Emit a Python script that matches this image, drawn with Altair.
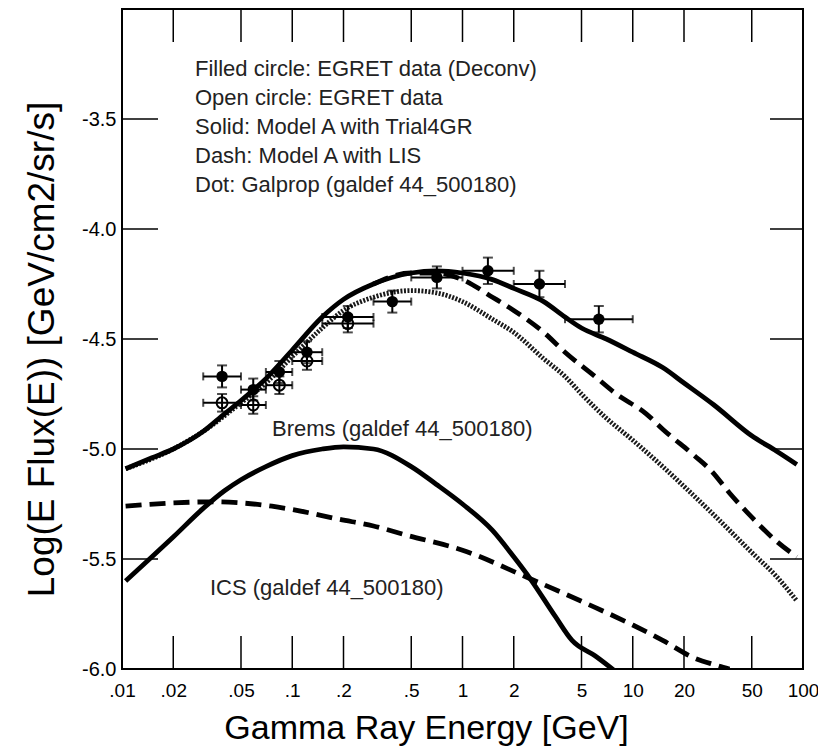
import altair as alt
import pandas as pd

# ---------------- data ----------------
total_E = [0.0105, 0.015, 0.02, 0.03, 0.04, 0.05, 0.07, 0.1, 0.15, 0.2, 0.3, 0.5, 0.7, 1, 1.5, 2, 3, 4, 5, 7, 10, 15, 20, 30, 50, 70, 92]
total_F = [-5.09, -5.04, -5.00, -4.92, -4.84, -4.78, -4.68, -4.55, -4.40, -4.32, -4.25, -4.20, -4.19, -4.20, -4.23, -4.27, -4.33, -4.40, -4.45, -4.50, -4.56, -4.63, -4.70, -4.80, -4.94, -5.01, -5.07]

lis_E = [0.3, 0.5, 0.7, 1, 1.5, 2, 3, 4, 6, 8, 12, 15, 23, 29, 37, 50, 70, 92]
lis_F = [-4.25, -4.20, -4.20, -4.23, -4.31, -4.37, -4.47, -4.56, -4.67, -4.75, -4.84, -4.91, -5.03, -5.10, -5.20, -5.31, -5.42, -5.49]

galprop_E = [0.0105, 0.02, 0.03, 0.05, 0.07, 0.1, 0.15, 0.2, 0.3, 0.5, 0.7, 1, 1.5, 2, 3, 4, 5, 7, 10, 15, 20, 30, 50, 70, 92]
galprop_F = [-5.09, -5.00, -4.92, -4.79, -4.70, -4.58, -4.45, -4.37, -4.31, -4.28, -4.29, -4.33, -4.41, -4.47, -4.59, -4.67, -4.75, -4.86, -4.96, -5.08, -5.17, -5.30, -5.47, -5.58, -5.69]

brems_E = [0.0105, 0.015, 0.02, 0.03, 0.04, 0.05, 0.07, 0.1, 0.15, 0.2, 0.3, 0.5, 0.7, 1, 1.5, 2, 2.5, 3.5, 4.4, 6, 8.5]
brems_F = [-5.60, -5.49, -5.40, -5.27, -5.19, -5.14, -5.08, -5.03, -5.00, -4.99, -5.00, -5.08, -5.16, -5.25, -5.37, -5.49, -5.59, -5.76, -5.87, -5.94, -6.03]

ics_E = [0.0105, 0.02, 0.035, 0.05, 0.076, 0.1, 0.19, 0.3, 0.46, 1, 2.5, 6, 10, 15, 23, 30, 37]
ics_F = [-5.26, -5.245, -5.24, -5.245, -5.26, -5.275, -5.32, -5.35, -5.39, -5.46, -5.59, -5.72, -5.80, -5.87, -5.95, -5.98, -6.00]

# EGRET deconvolved (filled circles)
fill_E = [0.0387, 0.059, 0.084, 0.122, 0.212, 0.387, 0.707, 1.41, 2.83, 6.32]
fill_lo = [0.03, 0.05, 0.07, 0.1, 0.15, 0.3, 0.5, 1.0, 2.0, 4.0]
fill_hi = [0.05, 0.07, 0.1, 0.15, 0.3, 0.5, 1.0, 2.0, 4.0, 10.0]
fill_F = [-4.67, -4.73, -4.65, -4.56, -4.40, -4.33, -4.22, -4.19, -4.25, -4.41]
fill_err = [0.05, 0.05, 0.05, 0.05, 0.05, 0.05, 0.05, 0.06, 0.06, 0.06]

# EGRET data (open circles)
open_E = [0.0387, 0.059, 0.084, 0.122, 0.212]
open_lo = [0.03, 0.05, 0.07, 0.1, 0.15]
open_hi = [0.05, 0.07, 0.1, 0.15, 0.3]
open_F = [-4.79, -4.80, -4.71, -4.60, -4.43]
open_err = [0.04, 0.04, 0.04, 0.04, 0.04]

x_tick_vals = [0.01, 0.02, 0.05, 0.1, 0.2, 0.5, 1, 2, 5, 10, 20, 50, 100]
x_tick_labels = [".01", ".02", ".05", ".1", ".2", ".5", "1", "2", "5", "10", "20", "50", "100"]
y_tick_vals = [-6.0, -5.5, -5.0, -4.5, -4.0, -3.5]
y_tick_labels = ["-6.0", "-5.5", "-5.0", "-4.5", "-4.0", "-3.5"]

legend_lines = [
    "Filled circle: EGRET data (Deconv)",
    "Open circle: EGRET data",
    "Solid: Model A with Trial4GR",
    "Dash: Model A with LIS",
    "Dot: Galprop (galdef 44_500180)",
]
brems_label = "Brems (galdef 44_500180)"
ics_label = "ICS (galdef 44_500180)"

# ---------------- chart ----------------
W, H = 681, 660
FONT = "Liberation Sans"

def label_expr(vals, labels):
    parts = [f"datum.value == {v} ? '{l}'" for v, l in zip(vals, labels)]
    return " : ".join(parts) + " : ''"

xs = alt.Scale(type="log", domain=[0.01, 100], nice=False)
ys = alt.Scale(domain=[-6, -3], nice=False, zero=False)

x_axis = alt.Axis(
    values=x_tick_vals, labelExpr=label_expr(x_tick_vals, x_tick_labels),
    ticks=False, domain=False, grid=False, labelFlush=False, labelOverlap=False,
    labelFont=FONT, labelFontSize=19, labelColor="black", labelPadding=12,
    title="Gamma Ray  Energy [GeV]", titleFont=FONT, titleFontSize=34,
    titleFontWeight="normal", titleColor="black", titleX=304, titleY=69,
    titleAlign="center", titleBaseline="alphabetic",
)
y_axis = alt.Axis(
    values=y_tick_vals, labelExpr=label_expr(y_tick_vals, y_tick_labels),
    ticks=False, domain=False, grid=False, labelFlush=False, labelOverlap=False,
    labelFont=FONT, labelFontSize=20, labelColor="black", labelPadding=6,
    title="Log(E Flux(E)) [GeV/cm2/sr/s]", titleFont=FONT, titleFontSize=37,
    titleFontWeight="normal", titleColor="black", titleX=-80, titleY=340,
    titleAngle=270, titleAlign="center", titleBaseline="middle",
)


def xenc(field):
    return alt.X(f"{field}:Q", scale=xs, axis=x_axis)


def yenc(field):
    return alt.Y(f"{field}:Q", scale=ys, axis=y_axis)


def curve(E, F, dash=None, color="black", width=4.8):
    df = pd.DataFrame({"E": E, "F": F})
    kw = dict(color=color, strokeWidth=width, interpolate="monotone", clip=True)
    if dash is not None:
        kw["strokeDash"] = dash
    return alt.Chart(df).mark_line(**kw).encode(x=xenc("E"), y=yenc("F"), order="E:Q")


layers = []
layers.append(curve(ics_E, ics_F, dash=[16, 8]))
layers.append(curve(brems_E, brems_F))
layers.append(curve(galprop_E, galprop_F, dash=[2, 1.5], color="#1a1a1a", width=4.8))
layers.append(curve(lis_E, lis_F, dash=[16, 8]))
layers.append(curve(total_E, total_F))

# error bars + points
def points(E, lo, hi, F, err, filled):
    df = pd.DataFrame({"E": E, "lo": lo, "hi": hi, "F": F,
                       "Flo": [f - e for f, e in zip(F, err)],
                       "Fhi": [f + e for f, e in zip(F, err)]})
    base = alt.Chart(df)
    hbar = base.mark_rule(color="black", strokeWidth=2).encode(
        x=xenc("lo"), x2="hi:Q", y=yenc("F"))
    vbar = base.mark_rule(color="black", strokeWidth=2).encode(
        x=xenc("E"), y=yenc("Flo"), y2="Fhi:Q")
    cap_top = base.mark_tick(color="black", thickness=2, size=10, orient="horizontal").encode(
        x=xenc("E"), y=yenc("Fhi"))
    cap_bot = base.mark_tick(color="black", thickness=2, size=10, orient="horizontal").encode(
        x=xenc("E"), y=yenc("Flo"))
    cap_l = base.mark_tick(color="black", thickness=2, size=8, orient="vertical").encode(
        x=xenc("lo"), y=yenc("F"))
    cap_r = base.mark_tick(color="black", thickness=2, size=8, orient="vertical").encode(
        x=xenc("hi"), y=yenc("F"))
    if filled:
        pt = base.mark_point(shape="circle", filled=True, color="black", size=130, opacity=1).encode(
            x=xenc("E"), y=yenc("F"))
    else:
        pt = base.mark_point(shape="circle", filled=False, color="black", size=120,
                             strokeWidth=2, opacity=1).encode(x=xenc("E"), y=yenc("F"))
    return [hbar, vbar, cap_top, cap_bot, cap_l, cap_r, pt]

layers += points(open_E, open_lo, open_hi, open_F, open_err, False)
layers += points(fill_E, fill_lo, fill_hi, fill_F, fill_err, True)

# inward ticks (mirrored on all four sides)
xt = pd.DataFrame({"E": x_tick_vals[1:-1]})
yt = pd.DataFrame({"F": y_tick_vals[1:]})
layers.append(alt.Chart(xt).mark_rule(color="black", strokeWidth=1.5).encode(
    x=xenc("E"), y=alt.value(H - 33), y2=alt.value(H)))
layers.append(alt.Chart(xt).mark_rule(color="black", strokeWidth=1.5).encode(
    x=xenc("E"), y=alt.value(0), y2=alt.value(33)))
layers.append(alt.Chart(yt).mark_rule(color="black", strokeWidth=1.5).encode(
    y=yenc("F"), x=alt.value(0), x2=alt.value(36)))
layers.append(alt.Chart(yt).mark_rule(color="black", strokeWidth=1.5).encode(
    y=yenc("F"), x=alt.value(W - 33), x2=alt.value(W)))

# annotations
one = pd.DataFrame({"k": [0]})
layers.append(alt.Chart(one).mark_text(
    text=legend_lines, align="left", baseline="alphabetic", font=FONT, fontSize=22,
    lineHeight=29, color="#222222").encode(x=alt.value(73), y=alt.value(67)))
layers.append(alt.Chart(one).mark_text(
    text=brems_label, align="left", baseline="alphabetic", font=FONT, fontSize=22,
    color="#222222").encode(x=alt.value(150), y=alt.value(427)))
layers.append(alt.Chart(one).mark_text(
    text=ics_label, align="left", baseline="alphabetic", font=FONT, fontSize=22,
    color="#222222").encode(x=alt.value(88), y=alt.value(586)))

chart = alt.layer(*layers).properties(
    width=W, height=H,
    autosize=alt.AutoSizeParams(type="none"),
    padding={"left": 114, "top": 1, "right": 15, "bottom": 80},
    background="white",
).configure_view(stroke="black", strokeWidth=2)

chart.save("out.html", embed_options={"renderer": "svg", "actions": False})
